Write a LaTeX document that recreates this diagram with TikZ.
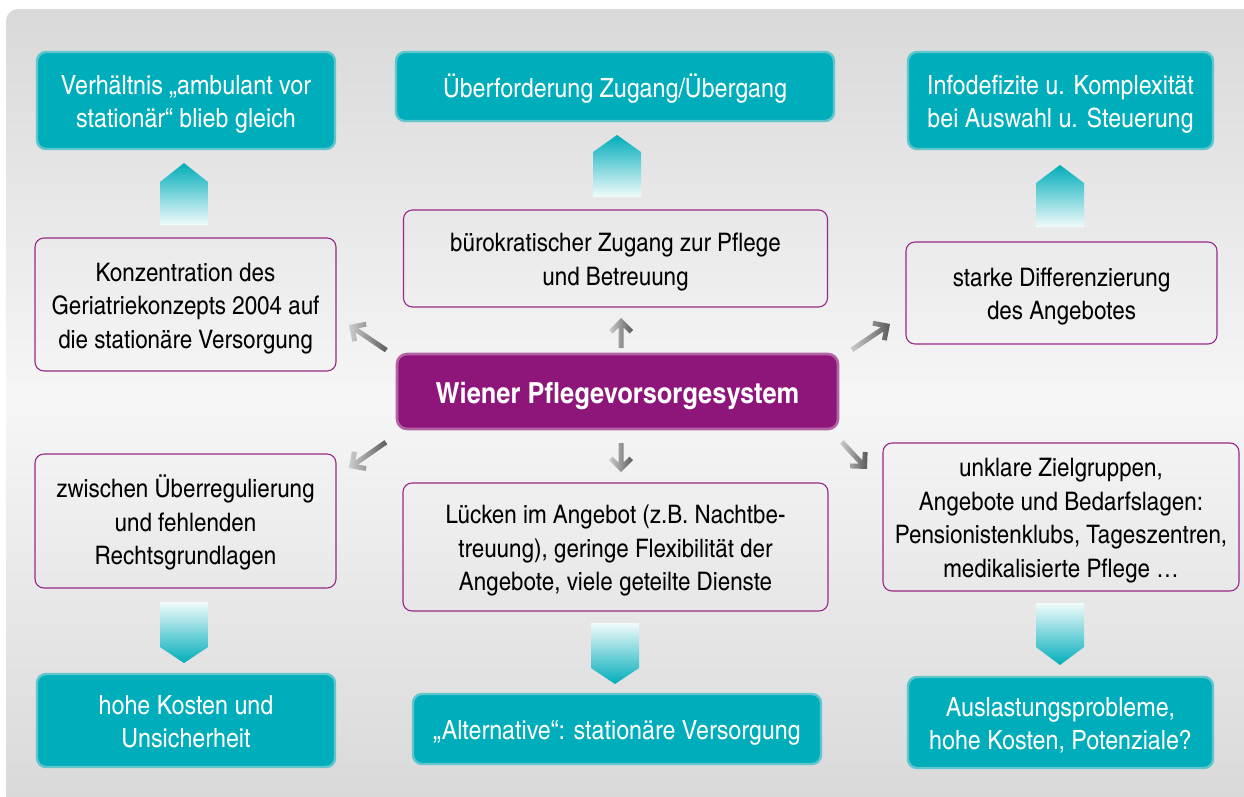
\documentclass[tikz,border=0pt]{standalone}
\usepackage{fontspec}
\setmainfont{texgyreheroscn-regular.otf}[BoldFont=texgyreheroscn-bold.otf, FakeStretch=1.07]
\usetikzlibrary{calc}
\definecolor{tealc}{RGB}{0,173,186}
\definecolor{tealedge}{RGB}{95,198,206}
\definecolor{purp}{RGB}{142,22,122}
\definecolor{purpedge}{RGB}{178,100,165}
\definecolor{bord}{RGB}{150,40,135}
\definecolor{bgd}{RGB}{217,217,217}
\definecolor{bgl}{RGB}{246,246,246}
\definecolor{arrl}{RGB}{205,205,205}
\definecolor{arrd}{RGB}{90,90,90}
\newcommand\topstr{\rule{0pt}{1.06em}}
\newcommand\botstr{\rule[-0.26em]{0pt}{0.26em}}
\tikzset{
  tealbox/.style={fill=tealc, draw=tealedge, line width=2.4pt, rounded corners=9pt,
    text=white, font=\fontsize{26.5}{33}\selectfont, align=center, inner sep=0pt},
  whitebox/.style={draw=bord, line width=1.1pt, rounded corners=9pt,
    font=\fontsize{25.5}{33.5}\selectfont, align=center, inner sep=0pt},
  centralbox/.style={fill=purp, draw=purpedge, line width=2.6pt, rounded corners=10pt,
    text=white, font=\bfseries\fontsize{29}{34}\selectfont, inner sep=0pt},
  grayarr/.pic={
    \shade[left color=arrl, right color=arrd]
      (0,0) -- (-12,-12) -- (-15.5,-8.5) -- (-9.5,-2.5) -- (-#1,-2.5) -- (-#1,2.5)
      -- (-9.5,2.5) -- (-15.5,8.5) -- (-12,12) -- cycle;
  },
  upshape/.style={top color=tealc, middle color=tealc!72!white, bottom color=tealc!5!white},
  downshape/.style={top color=tealc!5!white, middle color=tealc!72!white, bottom color=tealc}
}
\begin{document}
\begin{tikzpicture}[x=1pt,y=-1pt]
\useasboundingbox (0,0) rectangle (1244,796);
\fill[white] (0,0) rectangle (1244,796);
% background
\begin{scope}
\clip[rounded corners=12pt] (6,9) rectangle (1270,830);
\shade[top color=bgd, bottom color=bgl] (6,9) rectangle (1270,400);
\shade[top color=bgl, bottom color=bgd] (6,400) rectangle (1270,798);
\end{scope}

% teal result boxes
\node[tealbox, minimum width=298pt, minimum height=97pt] (tl) at (186,100.5)
  {\topstr Verhältnis „ambulant vor\\stationär“ blieb gleich\botstr};
\node[tealbox, minimum width=438pt, minimum height=69pt] (tc) at (615,86.5)
  {\topstr Überforderung Zugang/Übergang\botstr};
\node[tealbox, minimum width=305pt, minimum height=97pt] (tr) at (1060.5,100.5)
  {\topstr Infodefizite u. Komplexität\\bei Auswahl u. Steuerung\botstr};
\node[tealbox, minimum width=298pt, minimum height=93pt] (bl) at (186,720.5)
  {\topstr hohe Kosten und\\Unsicherheit\botstr};
\node[tealbox, minimum width=408pt, minimum height=70pt] (bc) at (617,729)
  {\topstr „Alternative“: stationäre Versorgung\botstr};
\node[tealbox, minimum width=305pt, minimum height=91pt] (br) at (1060.5,722.5)
  {\topstr Auslastungsprobleme,\\hohe Kosten, Potenziale?\botstr};

% white boxes
\node[whitebox, minimum width=301pt, minimum height=133pt] (l1) at (185.5,304.5)
  {\topstr Konzentration des\\Geriatriekonzepts 2004 auf\\die stationäre Versorgung\botstr};
\node[whitebox, minimum width=424pt, minimum height=97pt] (c1) at (615.5,258.5)
  {\topstr bürokratischer Zugang zur Pflege\\und Betreuung\botstr};
\node[whitebox, minimum width=311pt, minimum height=102pt] (r1) at (1061.5,293)
  {\topstr starke Differenzierung\\des Angebotes\botstr};
\node[whitebox, minimum width=301pt, minimum height=134pt] (l2) at (185.5,521)
  {\topstr zwischen Überregulierung\\und fehlenden\\Rechtsgrundlagen\botstr};
\node[whitebox, minimum width=425pt, minimum height=128pt] (c2) at (615.5,547)
  {\topstr Lücken im Angebot (z.B. Nachtbe-\\treuung), geringe Flexibilität der\\Angebote, viele geteilte Dienste\botstr};
\node[whitebox, minimum width=356pt, minimum height=148pt] (r2) at (1061,517)
  {\topstr unklare Zielgruppen,\\Angebote und Bedarfslagen:\\Pensionistenklubs, Tageszentren,\\medikalisierte Pflege …\botstr};

% central node
\node[centralbox, minimum width=441pt, minimum height=75pt] (ctr) at (617.5,391.5)
  {\topstr Wiener Pflegevorsorgesystem\botstr};

% teal block arrows
\shade[upshape] (160,225) -- (160,182) -- (184,163) -- (208,182) -- (208,225) -- cycle;
\shade[upshape] (593,197) -- (593,152) -- (617,135) -- (641,152) -- (641,197) -- cycle;
\shade[upshape] (1036,227) -- (1036,183) -- (1060,165) -- (1084,183) -- (1084,227) -- cycle;
\shade[downshape] (160,602) -- (160,647) -- (184,663) -- (208,647) -- (208,602) -- cycle;
\shade[downshape] (591,623) -- (591,668) -- (615,684) -- (639,668) -- (639,623) -- cycle;
\shade[downshape] (1036,603) -- (1036,647) -- (1060,665) -- (1084,647) -- (1084,603) -- cycle;

% gray arrows from the central node
\coordinate (aup) at (621,318);
\coordinate (adn) at (621,472);
\coordinate (aul) at (349,325);
\coordinate (adl) at (349,468);
\coordinate (aur) at (890,324);
\coordinate (adr) at (867,469);
\pic[rotate=90] at (aup) {grayarr=30};
\pic[rotate=-90] at (adn) {grayarr=29};
\pic[rotate=146] at (aul) {grayarr=45};
\pic[rotate=215] at (adl) {grayarr=45};
\pic[rotate=34] at (aur) {grayarr=46};
\pic[rotate=-47] at (adr) {grayarr=37};
\end{tikzpicture}
\end{document}
